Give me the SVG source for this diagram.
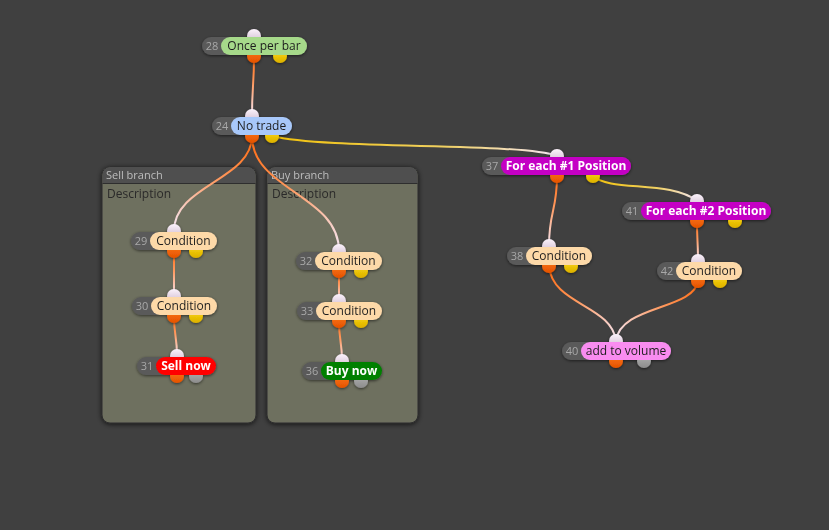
<svg xmlns="http://www.w3.org/2000/svg" xmlns:xlink="http://www.w3.org/1999/xlink" width="829" height="530" viewBox="0 0 829 530">
<defs>
<style>
.num{font-family:"Open Sans","DejaVu Sans",sans-serif;font-size:11px;fill:#a8a8a8;text-anchor:middle}
.lbl{font-family:"Open Sans","DejaVu Sans",sans-serif;font-size:12px;fill:#1e1e1e;text-anchor:middle}
.lblb{font-family:"Open Sans","DejaVu Sans",sans-serif;font-size:12px;font-weight:bold;fill:#ffffff;text-anchor:middle}
.base{fill:#5a5a5a}
.pin{fill:url(#gin)}
.por{fill:url(#gor)}
.pye{fill:url(#gye)}
.pgr{fill:url(#ggr)}
.wire{fill:none;stroke-width:2}
.gtitle{font-family:"Open Sans","DejaVu Sans",sans-serif;font-size:11px;fill:#bdbdbd}
.gdesc{font-family:"Open Sans","DejaVu Sans",sans-serif;font-size:12px;fill:#2a2a2a}
.gbody{fill:#6e6f5e;stroke:#2e2e2e;stroke-width:1}
.ghead{fill:#4f4f4f}
</style>
<filter id="sh" x="-20%" y="-50%" width="140%" height="200%">
<feDropShadow dx="0" dy="1" stdDeviation="1.5" flood-color="#000" flood-opacity="0.55"/>
</filter>
<filter id="gsh" x="-10%" y="-10%" width="120%" height="120%">
<feDropShadow dx="0" dy="1" stdDeviation="2.5" flood-color="#000" flood-opacity="0.7"/>
</filter>
<linearGradient id="gin" x1="0" y1="0" x2="0" y2="1"><stop offset="0" stop-color="#fbf2fb"/><stop offset="1" stop-color="#cdb9cd"/></linearGradient>
<linearGradient id="gor" x1="0" y1="0" x2="0" y2="1"><stop offset="0" stop-color="#ff7a1a"/><stop offset="1" stop-color="#e45200"/></linearGradient>
<linearGradient id="gye" x1="0" y1="0" x2="0" y2="1"><stop offset="0" stop-color="#ffdc10"/><stop offset="1" stop-color="#dcb000"/></linearGradient>
<linearGradient id="ggr" x1="0" y1="0" x2="0" y2="1"><stop offset="0" stop-color="#b4b4b4"/><stop offset="1" stop-color="#8c8c8c"/></linearGradient>
<linearGradient id="wo"><stop offset="0" stop-color="#ff6a10"/><stop offset="0.45" stop-color="#ff9a60"/><stop offset="1" stop-color="#f4e6f4"/></linearGradient>
<linearGradient id="wy"><stop offset="0" stop-color="#f2c20a"/><stop offset="0.6" stop-color="#f0d060"/><stop offset="1" stop-color="#f4e6f4"/></linearGradient>
<linearGradient id="w1" href="#wo" xlink:href="#wo" gradientUnits="userSpaceOnUse" x1="254" y1="56" x2="252" y2="116"/>
<linearGradient id="w2" href="#wo" xlink:href="#wo" gradientUnits="userSpaceOnUse" x1="252" y1="136" x2="174" y2="231"/>
<linearGradient id="w3" href="#wo" xlink:href="#wo" gradientUnits="userSpaceOnUse" x1="252" y1="136" x2="339" y2="251"/>
<linearGradient id="w4" href="#wy" xlink:href="#wy" gradientUnits="userSpaceOnUse" x1="272" y1="136" x2="557" y2="156"/>
<linearGradient id="w5" href="#wo" xlink:href="#wo" gradientUnits="userSpaceOnUse" x1="174" y1="251" x2="174" y2="296"/>
<linearGradient id="w6" href="#wo" xlink:href="#wo" gradientUnits="userSpaceOnUse" x1="174" y1="316" x2="177" y2="356"/>
<linearGradient id="w7" href="#wo" xlink:href="#wo" gradientUnits="userSpaceOnUse" x1="339" y1="271" x2="339" y2="301"/>
<linearGradient id="w8" href="#wo" xlink:href="#wo" gradientUnits="userSpaceOnUse" x1="339" y1="321" x2="342" y2="361"/>
<linearGradient id="w9" href="#wo" xlink:href="#wo" gradientUnits="userSpaceOnUse" x1="557" y1="176" x2="549" y2="246"/>
<linearGradient id="w10" href="#wy" xlink:href="#wy" gradientUnits="userSpaceOnUse" x1="593" y1="176" x2="697" y2="201"/>
<linearGradient id="w11" href="#wo" xlink:href="#wo" gradientUnits="userSpaceOnUse" x1="697" y1="221" x2="698" y2="261"/>
<linearGradient id="w12" href="#wo" xlink:href="#wo" gradientUnits="userSpaceOnUse" x1="549" y1="266" x2="616" y2="341"/>
<linearGradient id="w13" href="#wo" xlink:href="#wo" gradientUnits="userSpaceOnUse" x1="698" y1="281" x2="616" y2="341"/>
</defs>
<rect width="829" height="530" fill="#404040"/>

<g id="group-sell" filter="url(#gsh)">
<rect class="gbody" x="102" y="167" width="154" height="256" rx="8"/>
<path class="ghead" d="M102.5 183 V175 a8 8 0 0 1 8 -8 H247.5 a8 8 0 0 1 8 8 V183 Z"/>
<line x1="102.5" y1="183.5" x2="255.5" y2="183.5" stroke="#2e2e2e"/>
<text class="gtitle" x="106" y="179">Sell branch</text>
<text class="gdesc" x="107" y="198">Description</text>
</g>
<g id="group-buy" filter="url(#gsh)">
<rect class="gbody" x="267" y="167" width="151" height="256" rx="8"/>
<path class="ghead" d="M267.5 183 V175 a8 8 0 0 1 8 -8 H409.5 a8 8 0 0 1 8 8 V183 Z"/>
<line x1="267.5" y1="183.5" x2="417.5" y2="183.5" stroke="#2e2e2e"/>
<text class="gtitle" x="271" y="179">Buy branch</text>
<text class="gdesc" x="272" y="198">Description</text>
</g>

<g id="connectors">
<path class="wire" stroke="url(#w1)" d="M254 56 C254 86 252 86 252 116"/>
<path class="wire" stroke="url(#w2)" d="M252 136 C252 180 174 185 174 231"/>
<path class="wire" stroke="url(#w3)" d="M252 136 C252 190 339 195 339 251"/>
<path class="wire" stroke="url(#w4)" d="M272 136 C330 150 520 142 557 156"/>
<path class="wire" stroke="url(#w5)" d="M174 251 C174 273 174 273 174 296"/>
<path class="wire" stroke="url(#w6)" d="M174 316 C174 336 177 336 177 356"/>
<path class="wire" stroke="url(#w7)" d="M339 271 C339 286 339 286 339 301"/>
<path class="wire" stroke="url(#w8)" d="M339 321 C339 341 342 341 342 361"/>
<path class="wire" stroke="url(#w9)" d="M557 176 C557 211 549 211 549 246"/>
<path class="wire" stroke="url(#w10)" d="M593 176 C610 192 670 180 697 201"/>
<path class="wire" stroke="url(#w11)" d="M697 221 C697 241 698 241 698 261"/>
<path class="wire" stroke="url(#w12)" d="M549 266 C552 305 612 305 616 341"/>
<path class="wire" stroke="url(#w13)" d="M698 281 C694 310 620 305 616 341"/>
</g>

<g id="node-28" filter="url(#sh)">
<circle class="pin" cx="254" cy="36" r="7"/><circle class="por" cx="254" cy="56" r="7"/><circle class="pye" cx="280" cy="56" r="7"/>
<rect class="base" x="202" y="37" width="105" height="18" rx="9"/>
<rect x="221" y="37" width="86" height="18" rx="9" fill="#a6d98a"/>
<text class="num" x="212" y="50">28</text><text class="lbl" x="264" y="50">Once per bar</text>
</g>
<g id="node-24" filter="url(#sh)">
<circle class="pin" cx="252" cy="116" r="7"/><circle class="por" cx="252" cy="136" r="7"/><circle class="pye" cx="272" cy="136" r="7"/>
<rect class="base" x="212" y="117" width="80" height="18" rx="9"/>
<rect x="231" y="117" width="61" height="18" rx="9" fill="#a8c8fa"/>
<text class="num" x="222" y="130">24</text><text class="lbl" x="261.5" y="130">No trade</text>
</g>
<g id="node-29" filter="url(#sh)">
<circle class="pin" cx="174" cy="231" r="7"/><circle class="por" cx="174" cy="251" r="7"/><circle class="pye" cx="196" cy="251" r="7"/>
<rect class="base" x="131" y="232" width="86" height="18" rx="9"/>
<rect x="150" y="232" width="67" height="18" rx="9" fill="#fdd9a8"/>
<text class="num" x="141" y="245">29</text><text class="lbl" x="183.5" y="245">Condition</text>
</g>
<g id="node-30" filter="url(#sh)">
<circle class="pin" cx="174" cy="296" r="7"/><circle class="por" cx="174" cy="316" r="7"/><circle class="pye" cx="196" cy="316" r="7"/>
<rect class="base" x="132" y="297" width="85" height="18" rx="9"/>
<rect x="151" y="297" width="66" height="18" rx="9" fill="#fdd9a8"/>
<text class="num" x="142" y="310">30</text><text class="lbl" x="184" y="310">Condition</text>
</g>
<g id="node-31" filter="url(#sh)">
<circle class="pin" cx="177" cy="356" r="7"/><circle class="por" cx="177" cy="376" r="7"/><circle class="pgr" cx="196" cy="376" r="7"/>
<rect class="base" x="137" y="357" width="79" height="18" rx="9"/>
<rect x="156" y="357" width="60" height="18" rx="9" fill="#ff0000"/>
<text class="num" x="147" y="370">31</text><text class="lblb" x="186" y="370">Sell now</text>
</g>
<g id="node-32" filter="url(#sh)">
<circle class="pin" cx="339" cy="251" r="7"/><circle class="por" cx="339" cy="271" r="7"/><circle class="pye" cx="361" cy="271" r="7"/>
<rect class="base" x="296" y="252" width="86" height="18" rx="9"/>
<rect x="315" y="252" width="67" height="18" rx="9" fill="#fdd9a8"/>
<text class="num" x="306" y="265">32</text><text class="lbl" x="348.5" y="265">Condition</text>
</g>
<g id="node-33" filter="url(#sh)">
<circle class="pin" cx="339" cy="301" r="7"/><circle class="por" cx="339" cy="321" r="7"/><circle class="pye" cx="361" cy="321" r="7"/>
<rect class="base" x="297" y="302" width="85" height="18" rx="9"/>
<rect x="316" y="302" width="66" height="18" rx="9" fill="#fdd9a8"/>
<text class="num" x="307" y="315">33</text><text class="lbl" x="349" y="315">Condition</text>
</g>
<g id="node-36" filter="url(#sh)">
<circle class="pin" cx="342" cy="361" r="7"/><circle class="por" cx="342" cy="381" r="7"/><circle class="pgr" cx="361" cy="381" r="7"/>
<rect class="base" x="302" y="362" width="80" height="18" rx="9"/>
<rect x="321" y="362" width="61" height="18" rx="9" fill="#008000"/>
<text class="num" x="312" y="375">36</text><text class="lblb" x="351.5" y="375">Buy now</text>
</g>
<g id="node-37" filter="url(#sh)">
<circle class="pin" cx="557" cy="156" r="7"/><circle class="por" cx="557" cy="176" r="7"/><circle class="pye" cx="593" cy="176" r="7"/>
<rect class="base" x="482" y="157" width="149" height="18" rx="9"/>
<rect x="501" y="157" width="130" height="18" rx="9" fill="#c400c4"/>
<text class="num" x="492" y="170">37</text><text class="lblb" x="566" y="170">For each #1 Position</text>
</g>
<g id="node-41" filter="url(#sh)">
<circle class="pin" cx="697" cy="201" r="7"/><circle class="por" cx="697" cy="221" r="7"/><circle class="pye" cx="735" cy="221" r="7"/>
<rect class="base" x="622" y="202" width="149" height="18" rx="9"/>
<rect x="641" y="202" width="130" height="18" rx="9" fill="#c400c4"/>
<text class="num" x="632" y="215">41</text><text class="lblb" x="706" y="215">For each #2 Position</text>
</g>
<g id="node-38" filter="url(#sh)">
<circle class="pin" cx="549" cy="246" r="7"/><circle class="por" cx="549" cy="266" r="7"/><circle class="pye" cx="571" cy="266" r="7"/>
<rect class="base" x="507" y="247" width="85" height="18" rx="9"/>
<rect x="526" y="247" width="66" height="18" rx="9" fill="#fdd9a8"/>
<text class="num" x="517" y="260">38</text><text class="lbl" x="559" y="260">Condition</text>
</g>
<g id="node-42" filter="url(#sh)">
<circle class="pin" cx="698" cy="261" r="7"/><circle class="por" cx="698" cy="281" r="7"/><circle class="pye" cx="720" cy="281" r="7"/>
<rect class="base" x="657" y="262" width="85" height="18" rx="9"/>
<rect x="676" y="262" width="66" height="18" rx="9" fill="#fdd9a8"/>
<text class="num" x="667" y="275">42</text><text class="lbl" x="709" y="275">Condition</text>
</g>
<g id="node-40" filter="url(#sh)">
<circle class="pin" cx="616" cy="341" r="7"/><circle class="por" cx="616" cy="361" r="7"/><circle class="pgr" cx="644" cy="361" r="7"/>
<rect class="base" x="562" y="342" width="109" height="18" rx="9"/>
<rect x="581" y="342" width="90" height="18" rx="9" fill="#f98cf0"/>
<text class="num" x="572" y="355">40</text><text class="lbl" x="626" y="355">add to volume</text>
</g>
</svg>
